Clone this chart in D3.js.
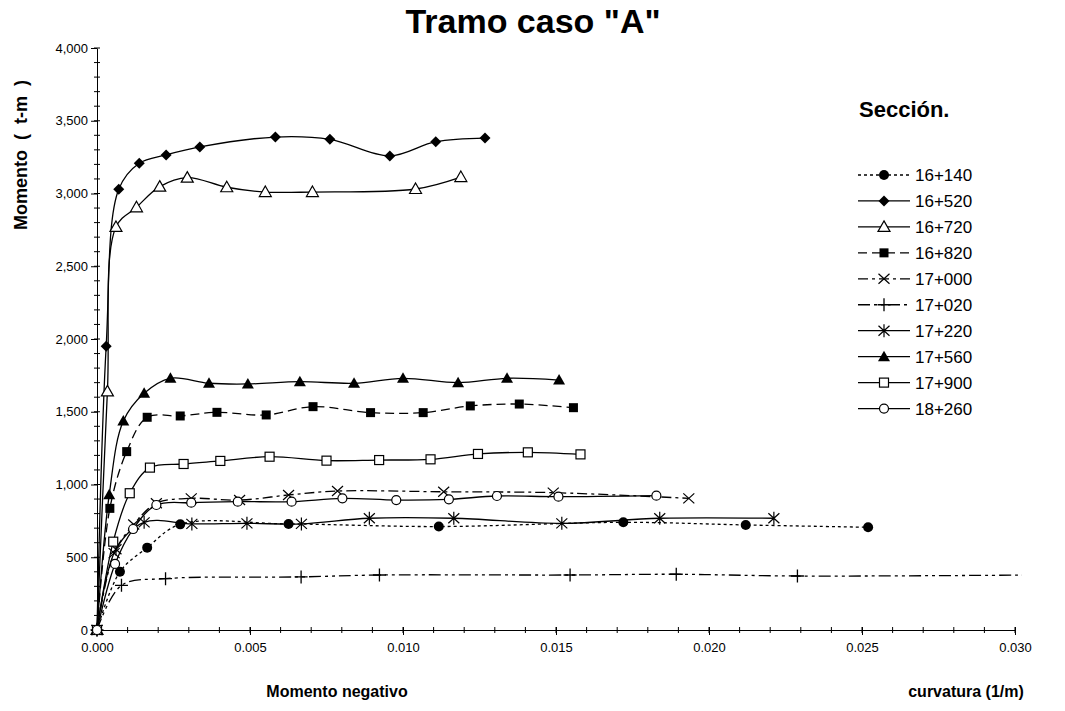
<!DOCTYPE html>
<html>
<head>
<meta charset="utf-8">
<script src="https://cdn.jsdelivr.net/npm/d3@7"></script>
<style>
  body { margin: 0; background: #fff; }
  text { font-family: "Liberation Sans", Arial, sans-serif; fill: #000; }
</style>
</head>
<body>
<svg id="chart" width="1065" height="711"></svg>
<script>
// section names (legend order)
const sections = ["16+140", "16+520", "16+720", "16+820", "17+000",
                  "17+020", "17+220", "17+560", "17+900", "18+260"];

// [curvatura (1/m), momento (t-m)]
const s16140 = [[0, 0], [0.00075, 400], [0.00164, 566], [0.00272, 726], [0.00626, 729],
                [0.01117, 711], [0.0172, 740], [0.0212, 722], [0.0252, 706]];
const s16520 = [[0, 0], [0.0003, 1950], [0.00071, 3029], [0.00138, 3208], [0.00226, 3265],
                [0.00336, 3320], [0.00583, 3388], [0.00761, 3372], [0.00957, 3258],
                [0.01107, 3356], [0.01268, 3381]];
const s16720 = [[0, 0], [0.00034, 1640], [0.00062, 2770], [0.00129, 2905], [0.00205, 3047],
                [0.00295, 3109], [0.00424, 3043], [0.0055, 3010], [0.00704, 3010],
                [0.01041, 3031], [0.01189, 3113]];
const s16820 = [[0, 0], [0.00042, 836], [0.00097, 1226], [0.00164, 1462], [0.00272, 1471],
                [0.00392, 1496], [0.00553, 1478], [0.00706, 1535], [0.00894, 1494],
                [0.01066, 1494], [0.0122, 1540], [0.0138, 1553], [0.01557, 1528]];
const s17000 = [[0, 0], [0.00056, 528], [0.0012, 725], [0.00194, 871], [0.00308, 905],
                [0.00466, 893], [0.00626, 928], [0.00786, 955], [0.01133, 950],
                [0.01491, 944], [0.01934, 905]];
const s17020 = [[0, 0], [0.0008, 307], [0.00224, 353], [0.00667, 365], [0.00923, 378],
                [0.01546, 378], [0.01893, 383], [0.02289, 371], [0.0306, 378]];
const s17220 = [[0, 0], [0.00062, 555], [0.00154, 740], [0.0031, 729], [0.0049, 733],
                [0.00668, 729], [0.0089, 768], [0.01166, 768], [0.01519, 733],
                [0.01839, 768], [0.02212, 768]];
const s17560 = [[0, 0], [0.0004, 930], [0.00086, 1436], [0.00154, 1627], [0.0024, 1730],
                [0.00366, 1696], [0.00493, 1691], [0.00663, 1707], [0.0084, 1696],
                [0.01, 1730], [0.0118, 1700], [0.0134, 1730], [0.0151, 1718]];
const s17900 = [[0, 0], [0.00053, 607], [0.00107, 940], [0.00173, 1116], [0.00283, 1141],
                [0.00403, 1162], [0.00564, 1191], [0.0075, 1164], [0.00922, 1168],
                [0.0109, 1173], [0.01245, 1210], [0.01408, 1221], [0.0158, 1207]];
const s18260 = [[0, 0], [0.00059, 454], [0.00118, 694], [0.00194, 859], [0.00308, 875],
                [0.0046, 882], [0.00636, 882], [0.00802, 905], [0.00978, 893],
                [0.0115, 898], [0.01307, 921], [0.01508, 916], [0.01828, 923]];

const seriesData = [s16140, s16520, s16720, s16820, s17000, s17020, s17220, s17560, s17900, s18260];

const yTicks = [0, 500, 1000, 1500, 2000, 2500, 3000, 3500, 4000];
const xTicks = [0, 0.005, 0.010, 0.015, 0.020, 0.025, 0.030];

// marker + dash per section
const styles = {
  "16+140": {marker: "dot",        dash: "3,3"},
  "16+520": {marker: "diamond",    dash: null},
  "16+720": {marker: "triOpen",    dash: null},
  "16+820": {marker: "square",     dash: "9,5"},
  "17+000": {marker: "x",          dash: "10,4,3,4"},
  "17+020": {marker: "plus",       dash: "12,4,3,4,3,4"},
  "17+220": {marker: "star",       dash: null},
  "17+560": {marker: "tri",        dash: null},
  "17+900": {marker: "squareOpen", dash: null},
  "18+260": {marker: "circleOpen", dash: null}
};

const svg = d3.select("#chart");

const x = d3.scaleLinear().domain([0, 0.03]).range([97, 1015]);
const y = d3.scaleLinear().domain([0, 4000]).range([630, 48]);

// title
svg.append("text")
    .attr("x", 533).attr("y", 33)
    .attr("text-anchor", "middle")
    .style("font-size", "34px").style("font-weight", "bold")
    .text('Tramo caso "A"');

// axis titles
svg.append("text")
    .attr("transform", "translate(27,230) rotate(-90)")
    .attr("text-anchor", "start")
    .style("font-size", "18px").style("font-weight", "bold")
    .style("word-spacing", "5px")
    .text("Momento ( t-m )");

svg.append("text")
    .attr("x", 337).attr("y", 697)
    .attr("text-anchor", "middle")
    .style("font-size", "16px").style("font-weight", "bold")
    .text("Momento negativo");

svg.append("text")
    .attr("x", 966).attr("y", 697)
    .attr("text-anchor", "middle")
    .style("font-size", "16px").style("font-weight", "bold")
    .text("curvatura (1/m)");

// minor ticks
svg.append("g").selectAll("line")
    .data(d3.range(0, 4001, 100))
  .enter().append("line")
    .attr("x1", 94).attr("x2", 100)
    .attr("y1", d => y(d)).attr("y2", d => y(d))
    .attr("stroke", "#000");

svg.append("g").selectAll("line")
    .data(d3.range(0, 0.0301, 0.001))
  .enter().append("line")
    .attr("x1", d => x(d)).attr("x2", d => x(d))
    .attr("y1", 627).attr("y2", 633)
    .attr("stroke", "#000");

// axes
const yAxis = svg.append("g")
    .attr("transform", "translate(97,0)")
    .call(d3.axisLeft(y).tickValues(yTicks).tickFormat(d3.format(",")).tickSize(6).tickSizeOuter(0).tickPadding(3));
const xAxis = svg.append("g")
    .attr("transform", "translate(0,630)")
    .call(d3.axisBottom(x).tickValues(xTicks).tickFormat(d3.format(".3f")).tickSize(5).tickSizeOuter(0).tickPadding(8));
xAxis.selectAll(".tick line").attr("y1", -3);

[yAxis, xAxis].forEach(function(a) {
  a.select(".domain").attr("stroke", "#000");
  a.selectAll(".tick line").attr("stroke", "#000");
  a.selectAll("text").style("font-size", "13px").style("font-family", '"Liberation Sans", Arial, sans-serif');
});

// plot clip (line of 17+020 runs past the last tick)
svg.append("clipPath").attr("id", "plotClip")
  .append("rect").attr("x", 88).attr("y", 40).attr("width", 934).attr("height", 600);

// marker drawing
function drawMarker(g, type) {
  const k = "#000";
  switch (type) {
    case "dot":
      g.append("circle").attr("r", 5).attr("fill", k); break;
    case "circleOpen":
      g.append("circle").attr("r", 4.5).attr("fill", "#fff").attr("stroke", k).attr("stroke-width", 1.2); break;
    case "diamond":
      g.append("path").attr("d", "M0,-5.5L5.5,0L0,5.5L-5.5,0Z").attr("fill", k); break;
    case "square":
      g.append("rect").attr("x", -4.5).attr("y", -4.5).attr("width", 9).attr("height", 9).attr("fill", k); break;
    case "squareOpen":
      g.append("rect").attr("x", -4.5).attr("y", -4.5).attr("width", 9).attr("height", 9)
        .attr("fill", "#fff").attr("stroke", k).attr("stroke-width", 1.2); break;
    case "tri":
      g.append("path").attr("d", "M0,-6L6,4.5L-6,4.5Z").attr("fill", k); break;
    case "triOpen":
      g.append("path").attr("d", "M0,-6L6,4.5L-6,4.5Z").attr("fill", "#fff").attr("stroke", k).attr("stroke-width", 1.2); break;
    case "x":
      g.append("path").attr("d", "M-5.5,-5L5.5,5M-5.5,5L5.5,-5").attr("stroke", k).attr("stroke-width", 1.2); break;
    case "plus":
      g.append("path").attr("d", "M-6.5,0L6.5,0M0,-6.5L0,6.5").attr("stroke", k).attr("stroke-width", 1.3); break;
    case "star":
      g.append("path").attr("d", "M-5.5,-5L5.5,5M-5.5,5L5.5,-5M0,-6.5L0,6.5").attr("stroke", k).attr("stroke-width", 1.2); break;
  }
}

const line = d3.line()
    .curve(d3.curveCatmullRom.alpha(0.5))
    .x(d => x(d[0]))
    .y(d => y(d[1]));

const plot = svg.append("g").attr("clip-path", "url(#plotClip)");

sections.forEach(function(name, i) {
  const st = styles[name];
  const data = seriesData[i];
  plot.append("path")
      .datum(data)
      .attr("d", line)
      .attr("fill", "none")
      .attr("stroke", "#000")
      .attr("stroke-width", 1.3)
      .attr("stroke-dasharray", st.dash);
  plot.append("g").selectAll("g")
      .data(data)
    .enter().append("g")
      .attr("transform", d => "translate(" + x(d[0]) + "," + y(d[1]) + ")")
      .each(function() { drawMarker(d3.select(this), st.marker); });
});

// legend
svg.append("text")
    .attr("x", 859).attr("y", 117)
    .style("font-size", "22px").style("font-weight", "bold")
    .text("Sección.");

const legend = svg.append("g").selectAll("g")
    .data(sections)
  .enter().append("g")
    .attr("transform", (d, i) => "translate(0," + (175 + i * 25.95) + ")");

legend.append("line")
    .attr("x1", 858).attr("x2", 910)
    .attr("stroke", "#000").attr("stroke-width", 1.3)
    .attr("stroke-dasharray", d => styles[d].dash);
legend.append("g")
    .attr("transform", "translate(884,0)")
    .each(function(d) { drawMarker(d3.select(this), styles[d].marker); });
legend.append("text")
    .attr("x", 915).attr("dy", "0.36em")
    .style("font-size", "17px")
    .text(d => d);
</script>
</body>
</html>
